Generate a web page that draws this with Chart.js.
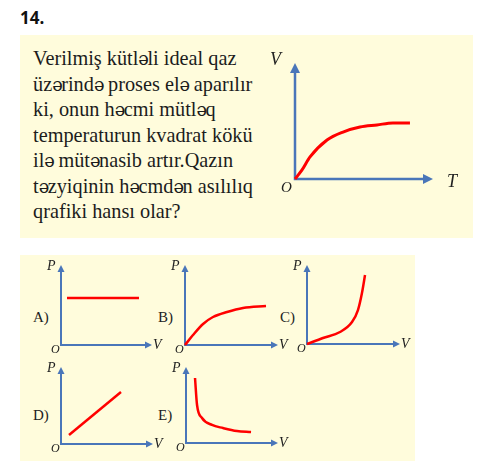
<!DOCTYPE html>
<html><head><meta charset="utf-8">
<script src="https://cdn.jsdelivr.net/npm/chart.js@4"></script>
<style>
body{margin:0;width:501px;height:461px;position:relative;background:#fff;overflow:hidden}
.box{position:absolute;background:#FFFCDC}
.num{position:absolute;left:20px;top:8px;font:bold 17px/20px "Open Sans","Liberation Sans",sans-serif;color:#111}
.q{position:absolute;left:33px;top:46px;font:20.3px/25.5px "Liberation Serif",serif;color:#1c1c1c;white-space:nowrap}
.q .e{font-family:"DejaVu Serif","Liberation Serif",serif;font-size:0.88em;letter-spacing:-1.5px}
.opt{position:absolute;font:15px/15px "Liberation Serif",serif;color:#222}
canvas{position:absolute}
</style></head><body>
<div class="num">14.</div>
<div class="box" style="left:20px;top:35px;width:453px;height:203px"></div>
<div class="box" style="left:20px;top:255px;width:395px;height:206px"></div>
<div class="q">Verilmiş kütl<span class="e">ə</span>li ideal qaz<br>üz<span class="e">ə</span>rind<span class="e">ə</span> proses el<span class="e">ə</span> aparılır<br>ki, onun h<span class="e">ə</span>cmi mütl<span class="e">ə</span>q<br>temperaturun kvadrat kökü<br>il<span class="e">ə</span> müt<span class="e">ə</span>nasib artır.Qazın<br>t<span class="e">ə</span>zyiqinin h<span class="e">ə</span>cmd<span class="e">ə</span>n asılılıq<br>qrafiki hansı olar?</div>
<div class="opt" style="left:33px;top:310px">A)</div>
<div class="opt" style="left:158px;top:310px">B)</div>
<div class="opt" style="left:280px;top:310px">C)</div>
<div class="opt" style="left:33px;top:408px">D)</div>
<div class="opt" style="left:158px;top:408px">E)</div>
<script>
// V–T graph (question)
const topT = [0, 0.51, 1.09, 2.32, 3.48, 4.71, 5.94, 7.10, 8.33];
const topV = [0, 0.78, 1.90, 3.36, 4.05, 4.48, 4.66, 4.83, 4.83];
// Answer options, P–V graphs
const aV = [0.66, 8.57];
const aP = [5.88, 5.88];
const bV = [0, 0.86, 1.94, 3.01, 4.52, 6.24, 8.71];
const bP = [0, 1.25, 2.63, 3.50, 4.13, 4.63, 4.88];
const cV = [0, 1.72, 3.55, 4.84, 5.48, 5.91, 6.24];
const cP = [0, 0.76, 1.52, 2.78, 4.30, 6.46, 8.73];
const dV = [0.87, 6.52];
const dP = [1.17, 6.75];
const eV = [0.98, 1.20, 1.74, 2.83, 4.02, 5.54, 7.07];
const eP = [8.55, 5.00, 3.29, 2.37, 1.97, 1.58, 1.45];
const axisMin = 0, axisMax = 10;

const BLUE = '#4a76b9', RED = '#ff0000';

const axesPlugin = {
  id: 'axesArrows',
  beforeDatasetsDraw(chart) {
    const o = chart.options.plugins.axesArrows;
    const ctx = chart.ctx, sx = chart.scales.x, sy = chart.scales.y;
    const X0 = sx.getPixelForValue(axisMin), X1 = sx.getPixelForValue(axisMax);
    const Y0 = sy.getPixelForValue(axisMin), Y1 = sy.getPixelForValue(axisMax);
    ctx.save();
    ctx.strokeStyle = BLUE; ctx.fillStyle = BLUE; ctx.lineWidth = o.lw;
    ctx.lineJoin = 'miter';
    ctx.beginPath();
    ctx.moveTo(X0, Y1 + o.al - 1);
    ctx.lineTo(X0, Y0);
    ctx.lineTo(X1 - o.al + 1, Y0);
    ctx.stroke();
    ctx.beginPath();
    ctx.moveTo(X0, Y1); ctx.lineTo(X0 - o.ah, Y1 + o.al); ctx.lineTo(X0 + o.ah, Y1 + o.al); ctx.closePath(); ctx.fill();
    ctx.beginPath();
    ctx.moveTo(X1, Y0); ctx.lineTo(X1 - o.al, Y0 - o.ah); ctx.lineTo(X1 - o.al, Y0 + o.ah); ctx.closePath(); ctx.fill();
    ctx.restore();
  },
  afterDatasetsDraw(chart) {
    const o = chart.options.plugins.axesArrows;
    const ctx = chart.ctx, sx = chart.scales.x, sy = chart.scales.y;
    const X0 = sx.getPixelForValue(axisMin), X1 = sx.getPixelForValue(axisMax);
    const Y0 = sy.getPixelForValue(axisMin), Y1 = sy.getPixelForValue(axisMax);
    ctx.save();
    ctx.fillStyle = '#222';
    ctx.textBaseline = 'alphabetic'; ctx.textAlign = 'left';
    ctx.font = 'italic ' + o.fs + 'px "Liberation Serif", serif';
    ctx.fillText(o.ylab, X0 + o.yl[0], Y1 + o.yl[1]);
    ctx.fillText(o.xlab, X1 + o.xl[0], Y0 + o.xl[1]);
    ctx.font = 'italic ' + o.ofs + 'px "Liberation Serif", serif';
    ctx.fillText('O', X0 + o.ol[0], Y0 + o.ol[1]);
    ctx.restore();
  }
};

function panel(ox, oy, w, h, xs, ys, lab) {
  const padL = 32, padT = 12, padR = 30, padB = 16;
  const c = document.createElement('canvas');
  c.width = w + padL + padR; c.height = h + padT + padB;
  c.style.left = (ox - padL) + 'px'; c.style.top = (oy - h - padT) + 'px';
  document.body.appendChild(c);
  new Chart(c.getContext('2d'), {
    type: 'line',
    data: { datasets: [{ data: xs.map((x, i) => ({ x: x, y: ys[i] })), borderColor: RED, borderWidth: lab.cw,
      pointRadius: 0, cubicInterpolationMode: 'monotone', fill: false, clip: false }] },
    options: {
      responsive: false, animation: false, events: [],
      layout: { padding: { left: padL, top: padT, right: padR, bottom: padB } },
      plugins: { legend: { display: false }, tooltip: { enabled: false }, axesArrows: lab },
      scales: {
        x: { type: 'linear', min: axisMin, max: axisMax, display: false },
        y: { type: 'linear', min: axisMin, max: axisMax, display: false }
      }
    },
    plugins: [axesPlugin]
  });
}

const big = { lw: 2.5, al: 10, ah: 5, cw: 3, fs: 18, ofs: 15, ylab: 'V', xlab: 'T', yl: [-25, 2], xl: [14, 8], ol: [-14, 13] };
const sm = (cw) => ({ lw: 2, al: 7, ah: 3.5, cw: cw, fs: 14, ofs: 12, ylab: 'P', xlab: 'V', yl: [-14, 5], xl: [1, 4], ol: [-10, 8] });

panel(295, 179, 138, 116, topT, topV, big);
panel(61, 345, 91, 80, aV, aP, sm(2.5));
panel(185, 345, 93, 80, bV, bP, sm(2.5));
panel(307, 344, 93, 79, cV, cP, sm(2.5));
panel(61, 444, 92, 77, dV, dP, sm(2.5));
panel(186, 443, 92, 76, eV, eP, sm(2.5));
</script>
</body></html>
